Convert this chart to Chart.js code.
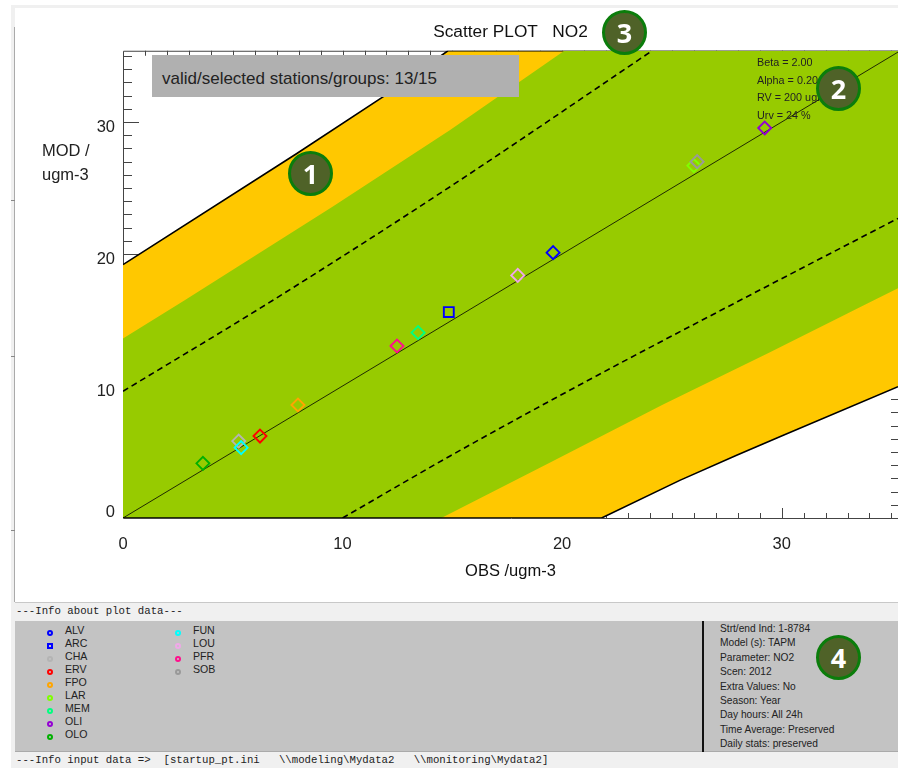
<!DOCTYPE html>
<html>
<head>
<meta charset="utf-8">
<title>Scatter PLOT NO2</title>
<script src="https://cdn.jsdelivr.net/npm/chart.js@4"></script>
<style>
    html, body { margin: 0; padding: 0; background: #fff; overflow: hidden; }
    #page { position: relative; width: 898px; height: 768px; overflow: hidden; font-family: "Liberation Sans", Arial, sans-serif; color: #222; }
    #page div { position: absolute; white-space: pre; }
    canvas { position: absolute; left: 0; top: 0; }
    .band { background: #f0f0f0; }
    .mono { font-family: "Liberation Mono", monospace; font-size: 10.7px; line-height: 12px; color: #222; }
    .info { font-size: 10.2px; line-height: 12px; }
    .legendName { font-size: 10.6px; line-height: 12px; }
    .dot { width: 2px; height: 2px; border: 2px solid; border-radius: 50%; }
    .badge { width: 39px; height: 39px; border: 3px solid #0b7d0b; border-radius: 50%; background: #4f6228; color: #fff;
        font: bold 27px/39px "Open Sans", sans-serif; text-align: center; }
</style>
</head>
<body>
<div id="page">
    <canvas id="scatter" width="898" height="602"></canvas>
    <div class="band" style="left:11px;top:5px;width:887px;height:3px"></div>
    <div class="band" style="left:11px;top:5px;width:4px;height:763px"></div>
    <div style="left:14px;top:27px;width:1px;height:575px;background:#aaa"></div>
    <div style="left:11px;top:200px;width:4px;height:1px;background:#888"></div>
    <div style="left:11px;top:356px;width:4px;height:1px;background:#888"></div>
    <div style="left:11px;top:530px;width:4px;height:1px;background:#888"></div>

    <div id="validBox" style="left:152px;top:55px;width:367px;height:42px;background:#b0b0b0"></div>
    <div style="left:162px;top:70px;font-size:17px;line-height:18px">valid/selected stations/groups: 13/15</div>
    <div style="left:42px;top:138px;font-size:16.5px;line-height:24px">MOD /
ugm-3</div>

    <div class="band" style="left:15px;top:603px;width:883px;height:165px"></div>
    <div style="left:15px;top:602px;width:883px;height:1px;background:#c8c8c8"></div>
    <div style="left:15px;top:621px;width:883px;height:131px;background:#c3c3c3"></div>
    <div style="left:15px;top:751px;width:883px;height:1px;background:#aaa"></div>
    <div style="left:702px;top:621px;width:2px;height:131px;background:#111"></div>
    <div class="mono" style="left:16px;top:605px">---Info about plot data---</div>
    <div class="mono" style="left:16px;top:754px">---Info input data =&gt;  [startup_pt.ini   \\modeling\Mydata2   \\monitoring\Mydata2]</div>
    <div id="legendBox"></div>
    <div id="infoBox"></div>

    <div class="badge" style="left:288px;top:151px">1</div>
    <div class="badge" style="left:816px;top:66px">2</div>
    <div class="badge" style="left:602px;top:10px">3</div>
    <div class="badge" style="left:816px;top:635px">4</div>
</div>

<script>
const stationNames = ["ALV", "ARC", "CHA", "ERV", "FPO", "LAR", "MEM", "OLI", "OLO", "FUN", "LOU", "PFR", "SOB"];
const stationObs = [19.59, 14.84, 5.27, 6.24, 7.97, 26.0, 13.44, 29.23, 3.64, 5.38, 17.98, 12.48, 26.15];
const stationMod = [20.1, 15.6, 5.83, 6.21, 8.56, 26.7, 14.04, 29.55, 4.14, 5.33, 18.38, 13.03, 27.0];
const stationColors = ["#0000ff", "#0000ff", "#b4b4b4", "#ff0000", "#ffa500", "#7fff00", "#00ff7f", "#9400d3", "#00b000", "#00ffff", "#f0a8e8", "#ff0f8c", "#999999"];

const upperOuterObs = [0, 7.9, 11.84, 14.8, 35.3];
const upperOuterMod = [19.2, 27.6, 31.9, 35.4, 35.4];
const lowerOuterObs = [0, 21.8, 25.36, 27.95, 30.05, 35.3];
const lowerOuterMod = [0, 0, 2.85, 4.75, 6.25, 9.95];
const upperGreenObs = [0, 2.81, 9.56, 14.9, 20.1, 35.3];
const upperGreenMod = [13.6, 16.5, 23.6, 29.4, 35.4, 35.4];
const lowerGreenObs = [0, 14.5, 19.5, 24.6, 29.4, 34.2, 35.3];
const lowerGreenMod = [0, 0, 4.25, 8.6, 12.5, 16.5, 17.4];
const upperDashObs = [0, 6.83, 14.9, 24.1];
const upperDashMod = [9.6, 16.5, 25.1, 35.4];
const lowerDashObs = [10, 14.9, 21.6, 28.0, 35.3];
const lowerDashMod = [0, 4.7, 10.8, 16.4, 22.7];
const unityObs = [0, 35.3];
const unityMod = [0, 35.3];

const paramLines = ["Beta = 2.00", "Alpha = 0.20", "RV = 200 ugm-3", "Urv = 24 %"];
const infoLines = ["Strt/end Ind: 1-8784", "Model (s): TAPM", "Parameter: NO2", "Scen: 2012", "Extra Values: No", "Season: Year", "Day hours: All 24h", "Time Average: Preserved", "Daily stats: preserved"];

const sansFont = "Liberation Sans";

function pairs(xs, ys) {
    return xs.map((x, i) => ({ x: x, y: ys[i] }));
}

function boundary(xs, ys, order, width) {
    return {
        data: pairs(xs, ys),
        showLine: true,
        pointRadius: 0,
        borderColor: "#000",
        borderWidth: width,
        order: order
    };
}

function dashed(xs, ys) {
    return Object.assign(boundary(xs, ys, 4, 1.6), { borderDash: [6, 4], cubicInterpolationMode: "monotone" });
}

// ticks sit under the coloured bands, so they only show on the white corners
const axisMarks = {
    id: "axisMarks",
    beforeDatasetsDraw(chart) {
        const { ctx, chartArea: area, scales: { x, y } } = chart;
        ctx.save();
        ctx.strokeStyle = "#444";
        ctx.lineWidth = 1;
        ctx.beginPath();
        for (let v = 1; v <= 35; v++) {
            const long = v % 10 === 0;
            const px = Math.round(x.getPixelForValue(v)) + 0.5;
            const py = Math.round(y.getPixelForValue(v)) + 0.5;
            ctx.moveTo(px, area.bottom);
            ctx.lineTo(px, area.bottom - (long ? 10 : 5));
            ctx.moveTo(px, area.top);
            ctx.lineTo(px, area.top + (long ? 10 : 5));
            ctx.moveTo(area.left, py);
            ctx.lineTo(area.left + (long ? 16 : 9), py);
            ctx.moveTo(area.right, py);
            ctx.lineTo(area.right - (long ? 16 : 7), py);
        }
        ctx.rect(area.left + 0.5, area.top + 0.5, area.right - area.left + 4, area.bottom - area.top);
        ctx.stroke();
        ctx.restore();
    },
    afterDraw(chart) {
        const { ctx, scales: { y } } = chart;
        ctx.save();
        ctx.fillStyle = "#222";
        ctx.font = "16.5px '" + sansFont + "'";
        ctx.textAlign = "right";
        ctx.textBaseline = "middle";
        ctx.fillText("0", 115, y.getPixelForValue(0) - 6);
        ctx.font = "10.8px '" + sansFont + "'";
        ctx.textAlign = "left";
        paramLines.forEach((line, i) => ctx.fillText(line, 757, 63 + i * 17.6));
        ctx.restore();
    }
};

new Chart(document.getElementById("scatter"), {
    type: "scatter",
    data: {
        datasets: [
            Object.assign(boundary(upperOuterObs, upperOuterMod, 7, 1.6), { fill: 1, backgroundColor: "#ffc800" }),
            boundary(lowerOuterObs, lowerOuterMod, 2, 1.6),
            Object.assign(boundary(upperGreenObs, upperGreenMod, 6, 0), { fill: 3, backgroundColor: "#97cb00" }),
            boundary(lowerGreenObs, lowerGreenMod, 5, 0),
            dashed(upperDashObs, upperDashMod),
            dashed(lowerDashObs, lowerDashMod),
            boundary(unityObs, unityMod, 3, 0.8),
            {
                data: pairs(stationObs, stationMod),
                pointStyle: stationNames.map(name => name === "ARC" ? "rect" : "rectRot"),
                pointRadius: stationNames.map(name => name === "ARC" ? 7 : 6.5),
                pointBorderColor: stationColors,
                pointBackgroundColor: "transparent",
                pointBorderWidth: 1.9,
                order: 0
            }
        ]
    },
    options: {
        responsive: false,
        animation: false,
        layout: { padding: 0, autoPadding: false },
        plugins: {
            legend: { display: false },
            tooltip: { enabled: false },
            title: {
                display: true,
                text: "Scatter PLOT   NO2",
                fullSize: false,
                color: "#111",
                font: { family: sansFont, size: 17.3, weight: "normal" },
                padding: { top: 22, bottom: 8 }
            }
        },
        scales: {
            x: {
                type: "linear",
                min: 0,
                max: 35.3,
                grid: { display: false, drawTicks: false },
                border: { display: false },
                afterFit(scale) {
                    scale.height = 84;
                },
                title: {
                    display: true,
                    text: "OBS /ugm-3",
                    color: "#111",
                    font: { family: sansFont, size: 16.5 },
                    padding: { top: 0, bottom: 21 }
                },
                ticks: {
                    stepSize: 10,
                    includeBounds: false,
                    autoSkip: false,
                    maxRotation: 0,
                    padding: 17,
                    color: "#222",
                    font: { family: sansFont, size: 16.5 }
                }
            },
            y: {
                type: "linear",
                min: 0,
                max: 35.4,
                grid: { display: false, drawTicks: false },
                border: { display: false },
                afterFit(scale) { scale.width = 123; },
                ticks: {
                    stepSize: 10,
                    includeBounds: false,
                    padding: 8,
                    labelOffset: 5.7,
                    color: "#222",
                    font: { family: sansFont, size: 16.5 },
                    callback: value => value === 0 ? "" : value
                }
            }
        }
    },
    plugins: [axisMarks]
});

// panel under the plot
const legendRows = [633, 646, 659, 672, 685, 698, 711, 724, 737];
const legendColumns = [50, 178];
const legendBox = document.getElementById("legendBox");
const infoBox = document.getElementById("infoBox");

stationNames.forEach((name, i) => {
    const col = i < 9 ? 0 : 1;
    const row = legendRows[i < 9 ? i : i - 9];
    const dot = document.createElement("div");
    dot.className = "dot";
    dot.style.cssText = "left:" + (legendColumns[col] - 3) + "px;top:" + (row - 3) + "px;border-color:" + stationColors[i] + (name === "ARC" ? ";border-radius:0" : "");
    legendBox.appendChild(dot);
    const label = document.createElement("div");
    label.className = "legendName";
    label.style.cssText = "left:" + (legendColumns[col] + 15) + "px;top:" + (row - 9) + "px";
    label.textContent = name;
    legendBox.appendChild(label);
});

infoLines.forEach((line, i) => {
    const row = document.createElement("div");
    row.className = "info";
    row.style.cssText = "left:720px;top:" + (623 + i * 14.4) + "px";
    row.textContent = line;
    infoBox.appendChild(row);
});
</script>
</body>
</html>
